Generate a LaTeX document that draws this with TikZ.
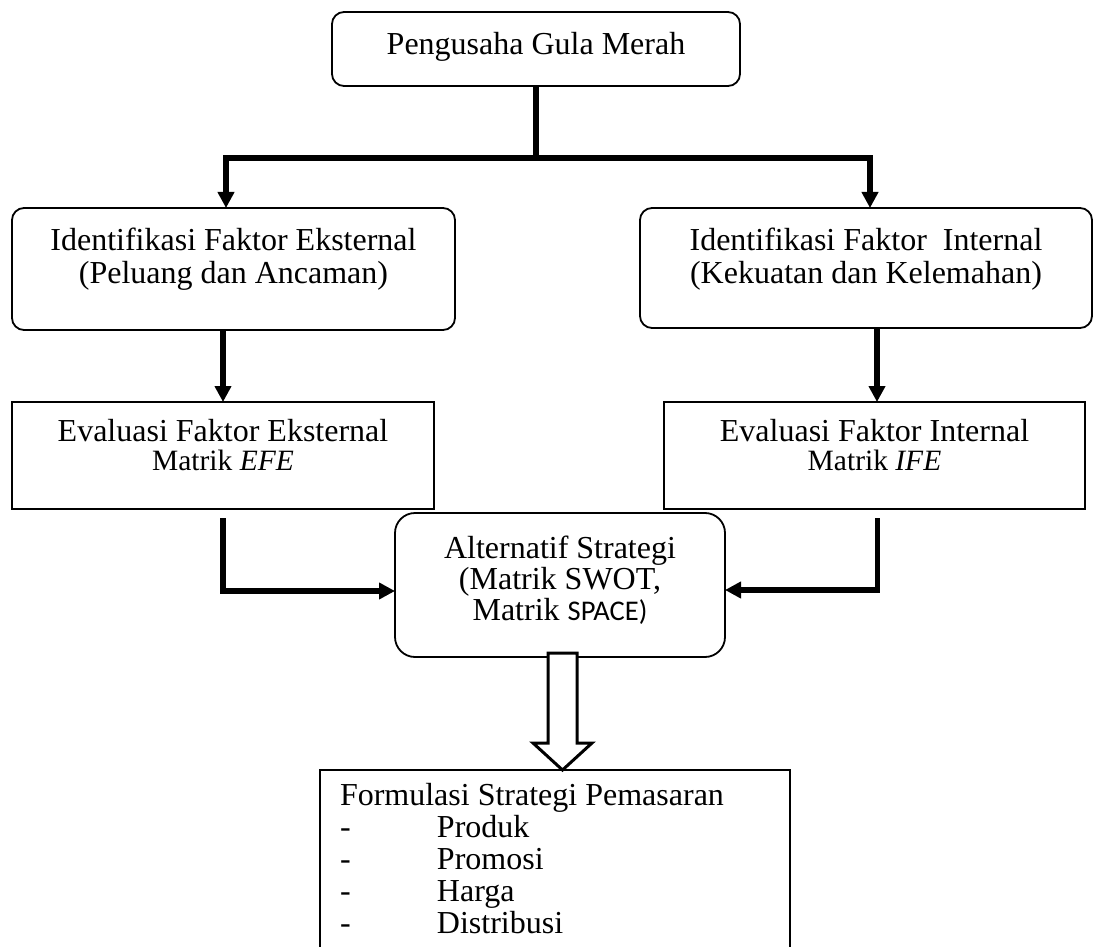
\documentclass[tikz,border=0pt]{standalone}
\usepackage{fontspec}
\setmainfont{Liberation Serif}
\newfontfamily\calibri{Carlito}
\usetikzlibrary{arrows.meta,calc}
\newcommand\bxtext[4]{\parbox[c][#2pt][t]{#1pt}{\centering\vspace*{#3pt}#4}}
\begin{document}
\begin{tikzpicture}[x=1pt,y=-1pt,
  box/.style={draw, line width=1.8pt, inner sep=0pt, outer sep=0pt},
  rbox/.style={box, rounded corners=12pt},
  conn/.style={line width=5.5pt},
  tip/.style={-{Triangle[length=16pt,width=16pt]}},
  hollow/.style={draw, line width=3pt, fill=white, line join=miter},
]
\useasboundingbox (0,0) rectangle (1093,947);
\clip (0,0) rectangle (1093,947);

\node[rbox] (top) at (536,49) {\bxtext{408}{74}{20}{\fontsize{32}{33}\selectfont Pengusaha Gula Merah}};

\node[rbox] (iL) at (233.5,269) {\bxtext{443}{122}{20}{\fontsize{32}{33}\selectfont Identifikasi Faktor Eksternal\\(Peluang dan Ancaman)}};
\node[rbox] (iR) at (866,268) {\bxtext{452}{120}{20}{\fontsize{32}{33}\selectfont Identifikasi Faktor~ Internal\\(Kekuatan dan Kelemahan)}};

\node[box] (eL) at (223,455.5) {\bxtext{422}{107}{17}{\fontsize{32}{29}\selectfont Evaluasi Faktor Eksternal\\{\fontsize{29.5}{29}\selectfont Matrik \textit{EFE}}}};
\node[box] (eR) at (874.5,455.5) {\bxtext{421}{107}{17}{\fontsize{32}{29}\selectfont Evaluasi Faktor Internal\\{\fontsize{29.5}{29}\selectfont Matrik \textit{IFE}}}};

\node[box, rounded corners=20pt] (alt) at (560,585) {\bxtext{330}{144}{23}{\fontsize{32}{31}\selectfont Alternatif Strategi\\(Matrik SWOT,\\Matrik {\calibri\fontsize{28.5}{31}\selectfont SPACE)}}};

\node[box] (form) at (555,885) {\parbox[c][230pt][t]{470pt}{\raggedright\leftskip=20pt\vspace*{13pt}\fontsize{32}{32}\selectfont Formulasi Strategi Pemasaran\\
\makebox[97pt][l]{-}Produk\\
\makebox[97pt][l]{-}Promosi\\
\makebox[97pt][l]{-}Harga\\
\makebox[97pt][l]{-}Distribusi}};

% connectors
\coordinate (sL) at (226,158);
\coordinate (sR) at (870,158);
\draw[conn] (top.south) -- (top.south |- sL);
\draw[conn,{Triangle[length=16pt,width=16pt]}-{Triangle[length=16pt,width=16pt]}] (sL |- iL.north) -- (sL) -- (sR) -- (sR |- iR.north);

\draw[conn,tip] (eL.north |- iL.south) -- (eL.north);
\draw[conn,tip] ([xshift=2.5pt]eR.north |- iR.south) -- ([xshift=2.5pt]eR.north);

\draw[conn,tip] ([yshift=-9pt]eL.south) |- ([yshift=-6pt]alt.west);
\draw[conn,tip] ([xshift=3pt,yshift=-9pt]eR.south) |- ([yshift=-5pt]alt.east);

% hollow block arrow
\coordinate (hT) at (562.5,653);
\coordinate (hB) at (form.north -| hT);
\draw[hollow] ($(hT)+(-14.5,0)$) -- ($(hT)+(-14.5,90)$) -- ($(hT)+(-29.5,90)$) -- (hB) -- ($(hT)+(29.5,90)$) -- ($(hT)+(14.5,90)$) -- ($(hT)+(14.5,0)$) -- cycle;
\end{tikzpicture}
\end{document}
